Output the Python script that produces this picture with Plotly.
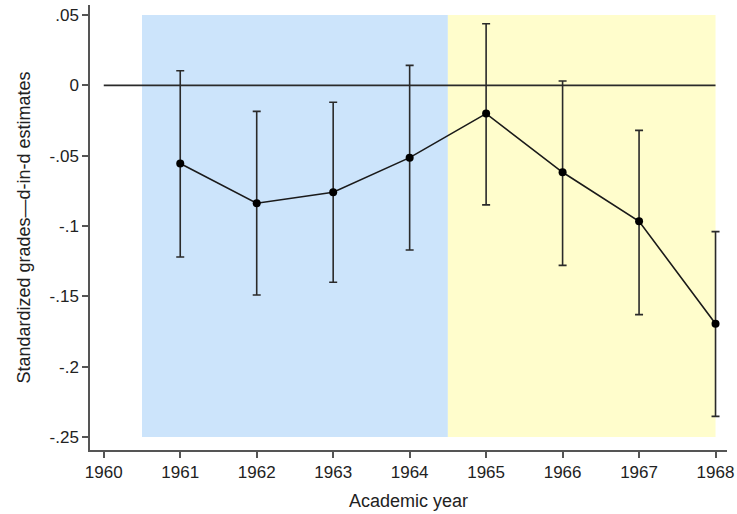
import plotly.graph_objects as go

# Difference-in-differences estimates by academic year, with 95% CIs
years = [1961, 1962, 1963, 1964, 1965, 1966, 1967, 1968]
estimate = [-0.0556, -0.0838, -0.0760, -0.0514, -0.0201, -0.0618, -0.0966, -0.1695]
ci_upper = [0.0104, -0.0185, -0.0120, 0.0142, 0.0438, 0.0031, -0.0320, -0.1040]
ci_lower = [-0.1220, -0.1490, -0.1400, -0.1170, -0.0850, -0.1280, -0.1630, -0.2353]

x_ticks = [1960, 1961, 1962, 1963, 1964, 1965, 1966, 1967, 1968]
y_ticks = [0.05, 0, -0.05, -0.1, -0.15, -0.2, -0.25]
y_tick_text = [".05", "0", "-.05", "-.1", "-.15", "-.2", "-.25"]

# Shaded periods: before and after the reform
pre_period = (1960.5, 1964.5)
post_period = (1964.5, 1968)
shade_bottom, shade_top = -0.25, 0.05

err_plus = [u - e for u, e in zip(ci_upper, estimate)]
err_minus = [e - l for e, l in zip(estimate, ci_lower)]

fig = go.Figure()
fig.add_trace(go.Scatter(
    x=years, y=estimate, mode="lines+markers",
    line=dict(color="#1a1a1a", width=1.6),
    marker=dict(color="black", size=8),
    error_y=dict(type="data", symmetric=False, array=err_plus, arrayminus=err_minus,
                 color="#2a2a2a", thickness=1.6, width=4),
    showlegend=False,
))

fig.add_shape(type="rect", xref="x", yref="y", x0=pre_period[0], x1=pre_period[1],
              y0=shade_bottom, y1=shade_top, fillcolor="#cce4fb", line_width=0, layer="below")
fig.add_shape(type="rect", xref="x", yref="y", x0=post_period[0], x1=post_period[1],
              y0=shade_bottom, y1=shade_top, fillcolor="#fffdcc", line_width=0, layer="below")
fig.add_shape(type="line", xref="x", yref="y", x0=x_ticks[0], x1=x_ticks[-1], y0=0, y1=0,
              line=dict(color="#2a2a2a", width=1.6), layer="below")

font = dict(family="Liberation Sans, Arial, sans-serif", size=15.2, color="#222")
tick_font = dict(family="Liberation Sans, Arial, sans-serif", size=17, color="#222")

fig.update_layout(
    width=737, height=514,
    margin=dict(l=90, r=10, t=5, b=64, autoexpand=False),
    plot_bgcolor="white", paper_bgcolor="white",
    font=font,
    xaxis=dict(range=[1959.82, 1968.15], tickvals=x_ticks, ticktext=[str(t) for t in x_ticks],
               showgrid=False, zeroline=False, showline=True, linecolor="#555", linewidth=1.5,
               ticks="outside", ticklen=6, tickcolor="#555", tickwidth=1.5, tickfont=tick_font,
               automargin=False, title=dict(text="Academic year", standoff=13)),
    yaxis=dict(range=[-0.2592, 0.0571], tickvals=y_ticks, ticktext=y_tick_text,
               showgrid=False, zeroline=False, showline=True, linecolor="#555", linewidth=1.5,
               ticks="outside", ticklen=6, tickcolor="#555", tickwidth=1.5, tickfont=tick_font,
               automargin=False, title=dict(text="Standardized grades\u2014d-in-d estimates", standoff=14)),
)

fig.write_html("out.html")
